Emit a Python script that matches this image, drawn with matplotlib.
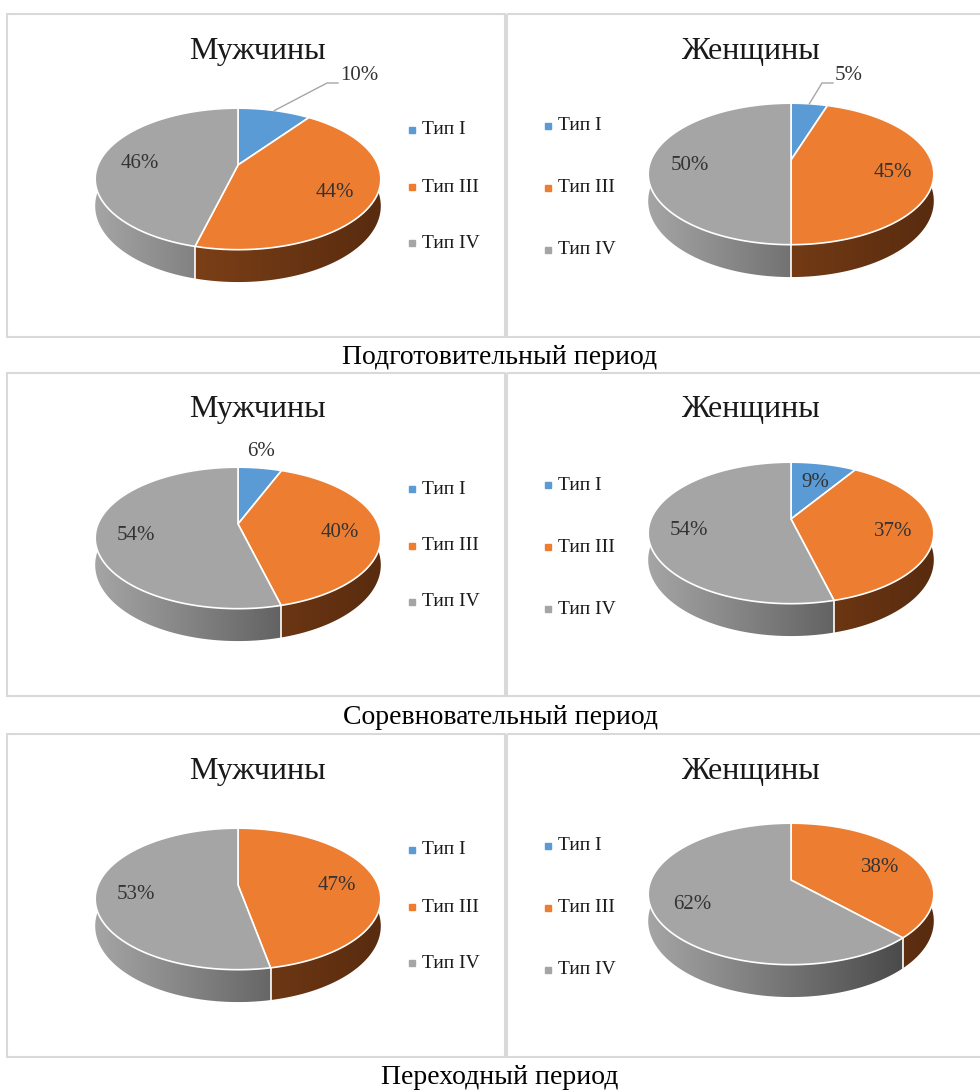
import numpy as np
import matplotlib
matplotlib.use('Agg')
import matplotlib.pyplot as plt
from matplotlib.patches import Polygon, Rectangle
from matplotlib.colors import to_rgb

plt.rcParams['font.family'] = ['Liberation Serif', 'DejaVu Serif']

# data
periods = ['Подготовительный период', 'Соревновательный период', 'Переходный период']
groups = ['Мужчины', 'Женщины']
types = ['Тип I', 'Тип III', 'Тип IV']

men = [[10, 44, 46], [6, 40, 54], [0, 47, 53]]
women = [[5, 45, 50], [9, 37, 54], [0, 38, 62]]

# style
top_colors = ['#5b9bd5', '#ed7d31', '#a5a5a5']
side_light = ['#3f6f9c', '#8e4a1b', '#a6a6a6']
side_dark = ['#25435e', '#582b0f', '#3e3e3e']
label_color = '#333333'

# layout (pixel coordinates, y down)
row_tops = [14, 373, 734]
row_h = 323
pie_x = [238, 791]
pie_dy = [151, 146]
title_x = [257, 750]
legend_mx = [412, 548]
legend_dy = [[116, 173, 229], [112, 174, 236]]

# outside labels: (row, col, slice) -> (left edge dx, centre dy from pie centre, leader)
outside = {(0, 0, 0): (102, -89, True),
           (0, 1, 0): (44, -84, True),
           (1, 0, 0): (9, -73, False)}

K = 0.197   # perspective
A = 140     # half width
B = 68      # half depth
D = 26      # thickness


def project(cx, cy, t, r=1.0, z=0.0):
    """
    Map a point of the pie disc (angle t, radius r, z=0 top / z=1 bottom) to the screen
    """
    X = r * np.cos(t)
    Y = r * np.sin(t)
    den = 1 + K * Y
    return cx + A * X / den, cy - B * Y / den + D * z / den


def draw_pie(ax, cx, cy, values, row, col):
    frac = np.cumsum([0] + list(values)) / sum(values)
    angles = np.pi / 2 - 2 * np.pi * frac

    # side walls (front half only)
    grad = np.linspace(0, 1, 256)
    for i, v in enumerate(values):
        if v == 0:
            continue
        lo = max(angles[i + 1], -np.pi)
        hi = min(angles[i], 0)
        if lo >= hi:
            continue
        ts = np.linspace(hi, lo, 80)
        x0, y0 = project(cx, cy, ts)
        x1, y1 = project(cx, cy, ts[::-1], z=1)
        poly = Polygon(np.column_stack([np.r_[x0, x1], np.r_[y0, y1]]),
                       closed=True, facecolor='none', edgecolor='none')
        ax.add_patch(poly)
        c0 = np.array(to_rgb(side_light[i]))
        c1 = np.array(to_rgb(side_dark[i]))
        img = (c0[None, :] * (1 - grad[:, None]) + c1[None, :] * grad[:, None])[None, :, :]
        im = ax.imshow(img, extent=(cx - A - 6, cx + A + 6, cy + B + 2 * D, cy - B),
                       aspect='auto', interpolation='bilinear', zorder=1)
        im.set_clip_path(poly)

    # white seams on the side
    for t in angles[1:-1]:
        if -np.pi < t < 0:
            xa, ya = project(cx, cy, t)
            xb, yb = project(cx, cy, t, z=1)
            ax.plot([xa, xb], [ya, yb], color='white', lw=1.2, zorder=2)

    # top face
    for i, v in enumerate(values):
        if v == 0:
            continue
        ts = np.linspace(angles[i], angles[i + 1], 120)
        xs, ys = project(cx, cy, ts)
        pts = np.column_stack([np.r_[cx, xs], np.r_[cy, ys]])
        ax.add_patch(Polygon(pts, closed=True, facecolor=top_colors[i],
                             edgecolor='white', lw=1.2, zorder=3))

    # labels
    for i, v in enumerate(values):
        if v == 0:
            continue
        mid = (angles[i] + angles[i + 1]) / 2
        key = (row, col, i)
        if key in outside:
            dx, dy, leader = outside[key]
            lx, ly = cx + dx, cy + dy
            if leader:
                sx, sy = project(cx, cy, mid)
                ax.plot([sx, lx - 13, lx - 2], [sy, ly + 7, ly + 7],
                        color='#a6a6a6', lw=1, zorder=4)
            ax.text(lx, ly, f'{v}%', fontsize=15, color=label_color,
                    ha='left', va='center', zorder=5)
        else:
            lx, ly = project(cx, cy, mid, r=0.72)
            ax.text(lx, ly + 5, f'{v}%', fontsize=15, color=label_color,
                    ha='center', va='center', zorder=5)


fig = plt.figure(figsize=(9.8, 10.92), dpi=100)
ax = fig.add_axes([0, 0, 1, 1])

for r, top in enumerate(row_tops):
    ax.add_patch(Rectangle((7, top), 498, row_h, fill=False, edgecolor='#d9d9d9', lw=1.5))
    ax.add_patch(Rectangle((507, top), 490, row_h, fill=False, edgecolor='#d9d9d9', lw=1.5))
    ax.text(500, top + row_h + 21, periods[r], fontsize=20, ha='center', va='center')

    for c, vals in enumerate([men[r], women[r]]):
        ax.text(title_x[c], top + 37, groups[c], fontsize=23, color='#1a1a1a',
                ha='center', va='center')
        draw_pie(ax, pie_x[c], top + pie_dy[c], vals, r, c)
        for i, name in enumerate(types):
            y = top + legend_dy[c][i]
            ax.plot(legend_mx[c], y, marker='s', ms=4.5, color=top_colors[i], ls='')
            ax.text(legend_mx[c] + 10, y, name, fontsize=14, color='#1a1a1a',
                    ha='left', va='center')

ax.set_xlim(0, 980)
ax.set_ylim(1092, 0)
ax.axis('off')
fig.savefig('out.png', dpi=100, facecolor='white')
